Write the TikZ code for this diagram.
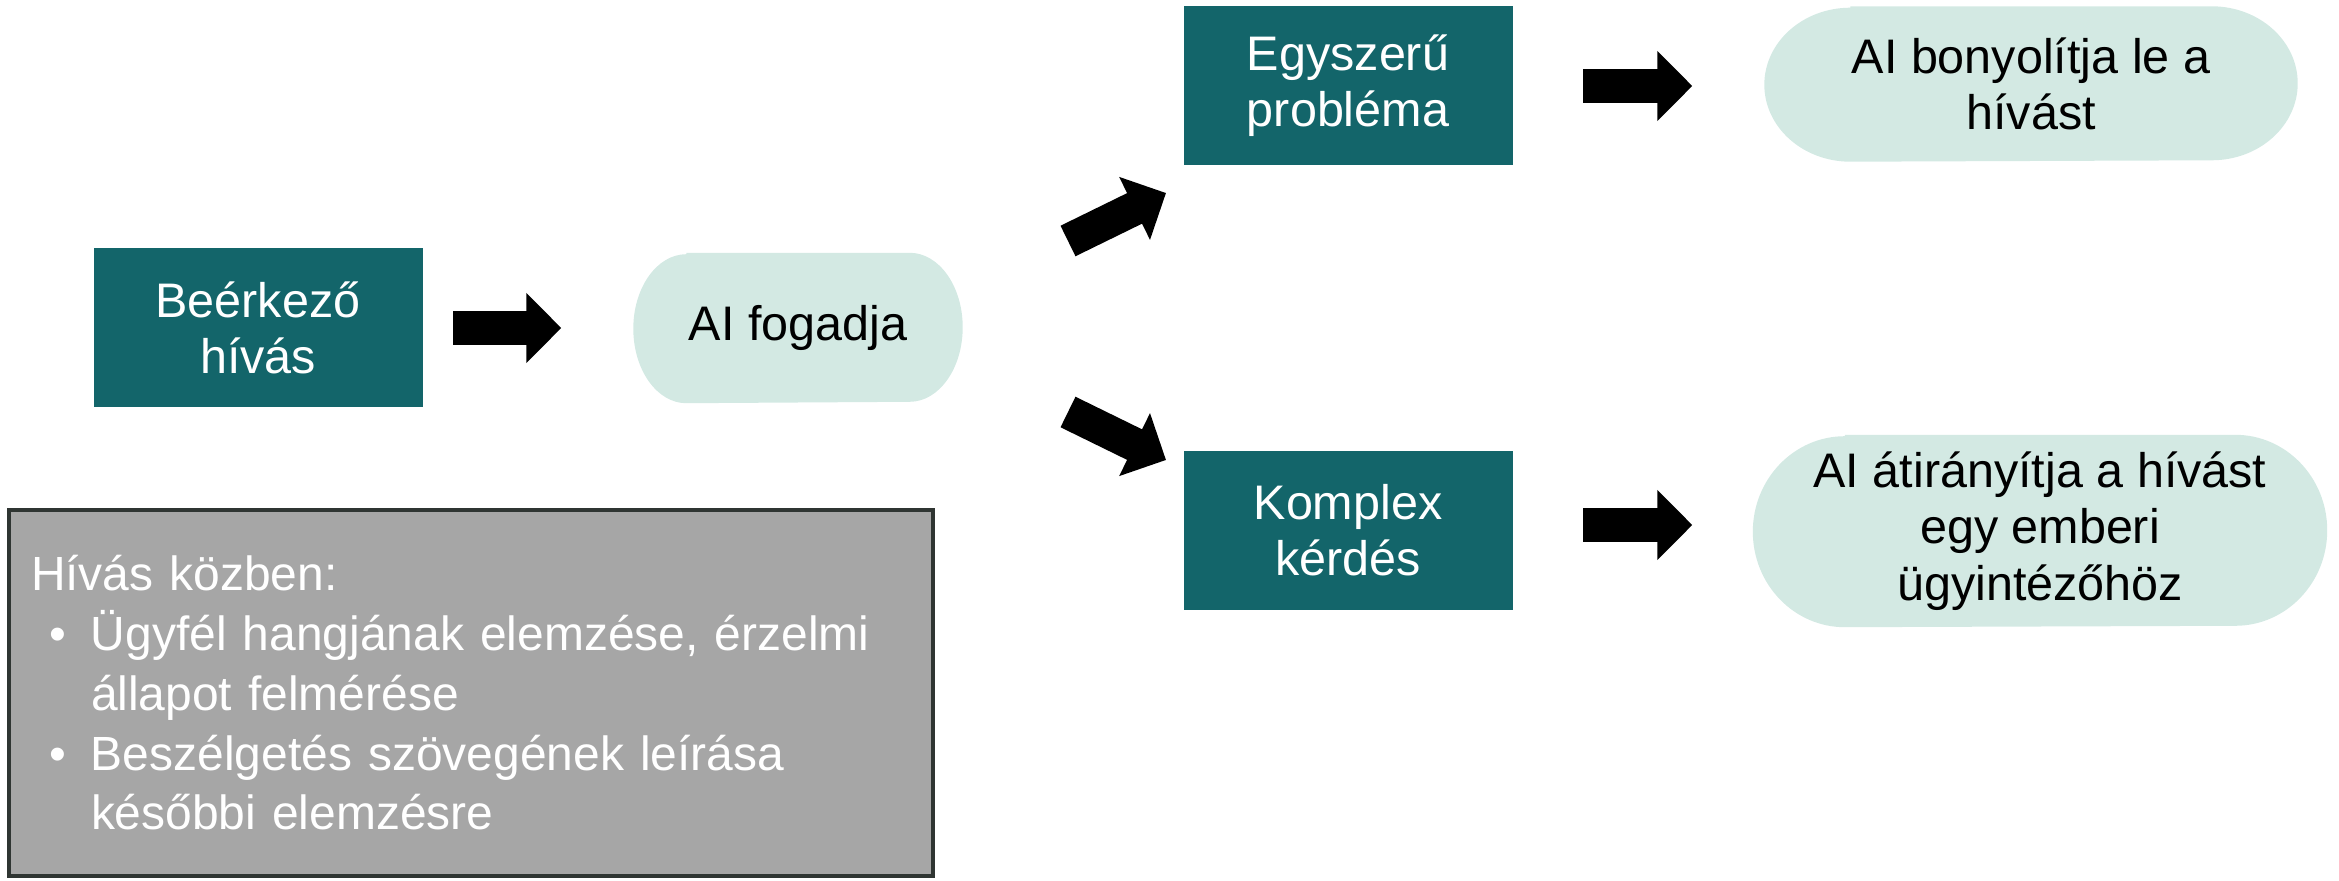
\documentclass[tikz,border=0pt]{standalone}
\usepackage{fontspec}
\setmainfont{Liberation Sans}
\usetikzlibrary{arrows.meta,backgrounds}

\definecolor{tealbox}{HTML}{13656A}
\definecolor{mint}{HTML}{D3E9E3}
\definecolor{notegrey}{HTML}{A6A6A6}
\definecolor{noteline}{HTML}{2F3532}

% terminator fill behind a node: name, x radius, y radius
\newcommand{\termfill}[3]{%
  \fill[mint] ([xshift=#2cm]#1.north west) -- ([xshift=-#2cm]#1.north east)
    arc[start angle=90, end angle=-90, x radius=#2cm, y radius=#3cm]
    -- ([xshift=#2cm]#1.south west)
    arc[start angle=270, end angle=90, x radius=#2cm, y radius=#3cm] -- cycle;}
\newcommand{\bul}{\makebox[0.60cm][l]{\hspace{0.18cm}\textbullet}}
\newcommand{\cont}{\hspace*{0.60cm}}

\begin{document}
\begin{tikzpicture}[
    font=\fontsize{13.8}{16}\selectfont,
    box/.style={fill=tealbox, text=white, minimum width=3.29cm,
                minimum height=1.59cm, align=center, inner sep=0pt},
    term/.style={text=black, align=center, inner sep=0pt},
    note/.style={draw=noteline, line width=1.2pt, fill=notegrey, text=white,
                 minimum height=3.66cm, text width=8.80cm, align=left,
                 inner xsep=0.22cm, font=\fontsize{13.65}{17}\selectfont},
    blk/.style={line width=0.34cm, -{Triangle[length=0.35cm, width=0.68cm]}}
  ]
    \useasboundingbox (0,0) rectangle (23.39,8.8);

    \node[box]  (call)    at (2.58,5.52)  {Beérkező\\hívás};
    \node[term, minimum width=3.28cm, minimum height=1.49cm] (fog) at (7.98,5.52) {AI fogadja};
    \node[box]  (simple)  at (13.48,7.94) {Egyszerű\\probléma};
    \node[box]  (complex) at (13.48,3.50) {Komplex\\kérdés};
    \node[term, minimum width=5.32cm, minimum height=1.54cm] (handle) at (20.31,7.96)
      {AI bonyolítja le a\\hívást};
    \node[term, minimum width=5.73cm, minimum height=1.91cm] (route) at (20.40,3.49)
      {AI átirányítja a hívást\\egy emberi\\ügyintézőhöz};
    \node[note] (during) at (4.71,1.87) {Hívás közben:\\
      \bul Ügyfél hangjának elemzése, érzelmi\\
      \cont állapot felmérése\\
      \bul Beszélgetés szövegének leírása\\
      \cont későbbi elemzésre};

    \begin{scope}[on background layer]
      \termfill{fog}{0.53}{0.745}
      \termfill{handle}{0.86}{0.77}
      \termfill{route}{0.92}{0.955}
    \end{scope}

    \coordinate (upS) at (10.68,6.39);
    \coordinate (upE) at (11.66,6.87);
    \coordinate (dnS) at (10.68,4.68);
    \coordinate (dnE) at (11.66,4.20);

    \draw[blk, shorten <=0.30cm, shorten >=0.72cm] (call.east) -- (fog.west);
    \draw[blk] (upS) -- (upE);
    \draw[blk] (dnS) -- (dnE);
    \draw[blk, shorten <=0.70cm, shorten >=0.72cm] (simple.east) -- (simple.east -| handle.west);
    \draw[blk, shorten <=0.70cm, shorten >=0.605cm] ([yshift=0.05cm]complex.east)
      -- ([yshift=0.05cm]complex.east -| route.west);
  \end{tikzpicture}
\end{document}
